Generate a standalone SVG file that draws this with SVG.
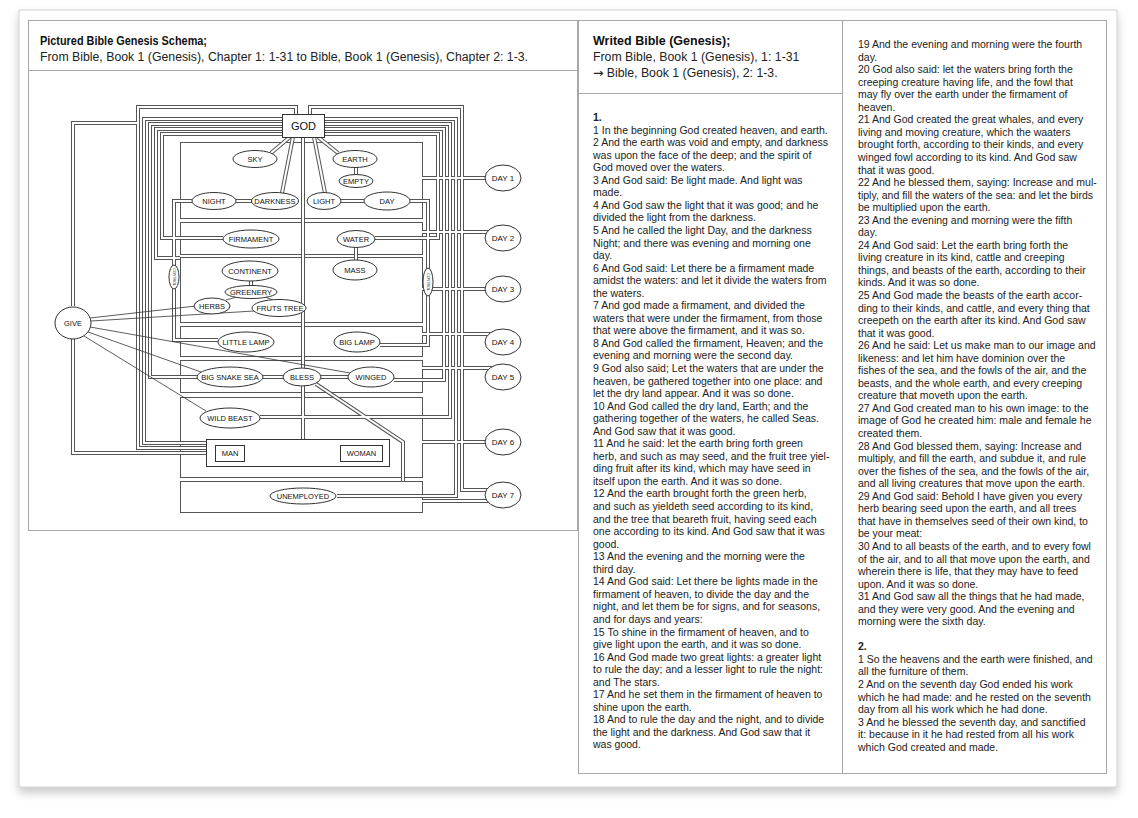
<svg xmlns="http://www.w3.org/2000/svg" width="1138" height="818" viewBox="0 0 1138 818">
<style>
.panel{fill:#fff;stroke:#a8a8a8;stroke-width:1}
.sep{stroke:#a8a8a8;stroke-width:1}
.box{fill:none;stroke:#555;stroke-width:1}
.o use{fill:none;stroke:#555;stroke-width:4;stroke-linejoin:miter}
.i use{fill:none;stroke:#fff;stroke-width:2;stroke-linejoin:miter}
.thin{fill:none;stroke:#333;stroke-width:0.8}
.node ellipse,.node rect{fill:#fff;stroke:#333;stroke-width:1}
.lbl{font-family:"Liberation Sans",Arial,sans-serif;font-size:7.5px;text-anchor:middle;fill:#111}
.tiny{font-family:"Liberation Sans",Arial,sans-serif;font-size:3.6px;text-anchor:middle;fill:#222}
.body{font-family:"Liberation Sans",Arial,sans-serif;font-size:10.5px;fill:#222}
.hd{font-family:"Liberation Sans",Arial,sans-serif;font-size:12.3px;fill:#222}
.hdb{font-family:"Liberation Sans",Arial,sans-serif;font-size:12.5px;font-weight:bold;fill:#111}
</style>
<defs>
<filter id="sh" x="-5%" y="-5%" width="110%" height="115%"><feDropShadow dx="0" dy="5" stdDeviation="5" flood-color="#000" flood-opacity="0.22"/></filter>
<path id="cA" d="M296,114 V107 H138 V448 H206"/>
<path id="cB" d="M282,119 H144 V443 H206"/>
<path id="cC" d="M282,124 H150 V377 H197"/>
<path id="cD" d="M282,129 H156 V258 H180"/>
<path id="cE" d="M282,134 H162 V238 H223"/>
<path id="cN" d="M192,201 H174 V340 H218"/>
<path id="cGu" d="M73,306 V123 H138"/>
<path id="cGd" d="M73,339 V453 H206"/>
<path id="cRt" d="M310,114 V107 H462 V490 H490"/>
<path id="cRu" d="M324,119 H456 V496 H337"/>
<path id="cRb" d="M324,124 H450 V417 H260"/>
<path id="cRg" d="M324,129 H444 V380 H394"/>
<path id="cRw" d="M324,134 H438 V238 H375"/>
<path id="cDy" d="M410,201 H428 V345 H380"/>
<path id="cSky" d="M290,137 L271,153"/>
<path id="cDk" d="M293,137 L282,193"/>
<path id="cLt" d="M314,137 L325,193"/>
<path id="cEa" d="M318,137 L338,153"/>
<path id="cEm" d="M356,167 V175"/>
<path id="cND" d="M236,201 H252"/>
<path id="cLD" d="M341,201 H364"/>
<path id="cWM" d="M356,247 V261"/>
<path id="cCG" d="M251,281 V286"/>
<path id="cV" d="M303,137 V439"/>
<path id="cBS" d="M263,377 H283"/>
<path id="cBW" d="M321,377 H348"/>
<path id="cBD" d="M316,384 L403,442 V481"/>
<path id="d1" d="M422,178 H495"/>
<path id="d2" d="M422,232 H495"/>
<path id="d3" d="M422,289 H495"/>
<path id="d4" d="M422,334 H495"/>
<path id="d5" d="M422,368 H495"/>
<path id="d6" d="M422,442 H495"/>
<path id="d7" d="M422,501 H495"/>
</defs>

<rect x="0" y="0" width="1138" height="818" fill="#fff"/>
<rect x="19" y="10" width="1098" height="777" fill="#fff" stroke="#d0d0d0" filter="url(#sh)"/>

<g id="panel-left">
<rect class="panel" x="28.5" y="20.5" width="549" height="510"/>
<line class="sep" x1="28.5" y1="70.5" x2="577.5" y2="70.5"/>
<text class="hdb" x="40" y="45" textLength="167" lengthAdjust="spacingAndGlyphs">Pictured Bible Genesis Schema;</text>
<text class="hd" x="40" y="61" textLength="488" lengthAdjust="spacingAndGlyphs">From Bible, Book 1 (Genesis), Chapter 1: 1-31 to Bible, Book 1 (Genesis), Chapter 2: 1-3.</text>
</g>

<g id="sections">
<rect class="box" x="180.5" y="142.5" width="242" height="76"/>
<rect class="box" x="180.5" y="222.5" width="242" height="32"/>
<rect class="box" x="180.5" y="257.5" width="242" height="65"/>
<rect class="box" x="180.5" y="326.5" width="242" height="30"/>
<rect class="box" x="180.5" y="360.5" width="242" height="32"/>
<rect class="box" x="180.5" y="397.5" width="242" height="80"/>
<rect class="box" x="180.5" y="481.5" width="242" height="31"/>
</g>

<g id="connectors">
<g class="o">
<use href="#cA"/><use href="#cB"/><use href="#cC"/><use href="#cD"/><use href="#cE"/><use href="#cN"/><use href="#cGu"/><use href="#cGd"/>
<use href="#cRt"/><use href="#cRu"/><use href="#cRb"/><use href="#cRg"/><use href="#cRw"/><use href="#cDy"/>
<use href="#cSky"/><use href="#cDk"/><use href="#cLt"/><use href="#cEa"/><use href="#cEm"/><use href="#cND"/><use href="#cLD"/><use href="#cWM"/><use href="#cCG"/>
<use href="#cV"/><use href="#cBS"/><use href="#cBW"/><use href="#cBD"/>
<use href="#d1"/><use href="#d2"/><use href="#d3"/><use href="#d4"/><use href="#d5"/><use href="#d6"/><use href="#d7"/>
</g>
<g class="i">
<use href="#cA"/><use href="#cB"/><use href="#cC"/><use href="#cD"/><use href="#cE"/><use href="#cN"/><use href="#cGu"/><use href="#cGd"/>
<use href="#cRt"/><use href="#cRu"/><use href="#cRb"/><use href="#cRg"/><use href="#cRw"/><use href="#cDy"/>
<use href="#cSky"/><use href="#cDk"/><use href="#cLt"/><use href="#cEa"/><use href="#cEm"/><use href="#cND"/><use href="#cLD"/><use href="#cWM"/><use href="#cCG"/>
<use href="#cV"/><use href="#cBS"/><use href="#cBW"/><use href="#cBD"/>
<use href="#d1"/><use href="#d2"/><use href="#d3"/><use href="#d4"/><use href="#d5"/><use href="#d6"/><use href="#d7"/>
</g>
<g class="thin">
<path d="M90,318 L196,306"/>
<path d="M91,321 L254,311"/>
<path d="M90,327 L350,373"/>
<path d="M88,332 L201,372"/>
<path d="M84,336 L206,411"/>
<path d="M237,297 L226,300"/>
<path d="M265,297 L273,300"/>
</g>
</g>

<g id="god" class="node"><rect x="282.5" y="114.5" width="42" height="23"/><text class="lbl" style="font-size:11px" x="303.5" y="130">GOD</text></g>
<g id="sky" class="node"><ellipse cx="255" cy="159" rx="22" ry="8.5"/><text class="lbl" x="255" y="161.7">SKY</text></g>
<g id="earth" class="node"><ellipse cx="355" cy="159" rx="22" ry="8.5"/><text class="lbl" x="355" y="161.7">EARTH</text></g>
<g id="empty" class="node"><ellipse cx="356" cy="181" rx="17" ry="6.5"/><text class="lbl" x="356" y="183.7">EMPTY</text></g>
<g id="night" class="node"><ellipse cx="214" cy="201" rx="22" ry="8.5"/><text class="lbl" x="214" y="203.7">NIGHT</text></g>
<g id="darkness" class="node"><ellipse cx="275" cy="201" rx="23.5" ry="8.5"/><text class="lbl" x="275" y="203.7">DARKNESS</text></g>
<g id="light" class="node"><ellipse cx="324" cy="201" rx="17" ry="8.5"/><text class="lbl" x="324" y="203.7">LIGHT</text></g>
<g id="day" class="node"><ellipse cx="387" cy="201" rx="23" ry="9"/><text class="lbl" x="387" y="203.7">DAY</text></g>
<g id="firmament" class="node"><ellipse cx="251" cy="239" rx="28" ry="9"/><text class="lbl" x="251" y="241.7">FIRMAMENT</text></g>
<g id="water" class="node"><ellipse cx="356" cy="239" rx="19" ry="8.5"/><text class="lbl" x="356" y="241.7">WATER</text></g>
<g id="mass" class="node"><ellipse cx="355" cy="270" rx="22" ry="10"/><text class="lbl" x="355" y="272.7">MASS</text></g>
<g id="continent" class="node"><ellipse cx="250" cy="271" rx="28" ry="10"/><text class="lbl" x="250" y="273.7">CONTINENT</text></g>
<g id="greenery" class="node"><ellipse cx="251" cy="292" rx="26" ry="6.5"/><text class="lbl" x="251" y="294.7">GREENERY</text></g>
<g id="herbs" class="node"><ellipse cx="212" cy="306" rx="18" ry="8"/><text class="lbl" x="212" y="308.7">HERBS</text></g>
<g id="fruts-tree" class="node"><ellipse cx="279" cy="308" rx="27" ry="8.5"/><text class="lbl" x="280" y="310.7">FRUTS TREE</text></g>
<g id="control-left" class="node"><ellipse cx="174" cy="277" rx="5" ry="12"/><text class="tiny" transform="translate(172.8,277) rotate(90)">CONTROL</text></g>
<g id="control-right" class="node"><ellipse cx="428" cy="282" rx="5" ry="14"/><text class="tiny" transform="translate(426.8,282) rotate(90)">CONTROL</text></g>
<g id="little-lamp" class="node"><ellipse cx="246" cy="342" rx="28" ry="10"/><text class="lbl" x="246" y="344.7">LITTLE LAMP</text></g>
<g id="big-lamp" class="node"><ellipse cx="357" cy="342" rx="23" ry="10"/><text class="lbl" x="357" y="344.7">BIG LAMP</text></g>
<g id="big-snake-sea" class="node"><ellipse cx="230" cy="377" rx="33" ry="10"/><text class="lbl" x="230" y="379.7">BIG SNAKE SEA</text></g>
<g id="bless" class="node"><ellipse cx="302" cy="377" rx="19" ry="9"/><text class="lbl" x="302" y="379.7">BLESS</text></g>
<g id="winged" class="node"><ellipse cx="371" cy="377" rx="23" ry="10"/><text class="lbl" x="371" y="379.7">WINGED</text></g>
<g id="wild-beast" class="node"><ellipse cx="230" cy="418" rx="30" ry="10"/><text class="lbl" x="230" y="420.7">WILD BEAST</text></g>
<g id="man-woman" class="node"><rect x="206.5" y="439.5" width="183" height="27"/></g>
<g id="man" class="node"><rect x="215.5" y="445.5" width="29" height="16"/><text class="lbl" x="230" y="456">MAN</text></g>
<g id="woman" class="node"><rect x="340.5" y="445.5" width="42" height="16"/><text class="lbl" x="361.5" y="456">WOMAN</text></g>
<g id="unemployed" class="node"><ellipse cx="303" cy="496" rx="33" ry="8"/><text class="lbl" x="303" y="498.7">UNEMPLOYED</text></g>
<g id="give" class="node"><ellipse cx="73" cy="323" rx="18" ry="16"/><text class="lbl" x="73" y="325.7">GIVE</text></g>
<g id="day1" class="node"><ellipse cx="503" cy="178" rx="18" ry="13"/><text class="lbl" style="font-size:8px" x="503" y="181">DAY 1</text></g>
<g id="day2" class="node"><ellipse cx="503" cy="238" rx="18" ry="13"/><text class="lbl" style="font-size:8px" x="503" y="241">DAY  2</text></g>
<g id="day3" class="node"><ellipse cx="503" cy="289" rx="18" ry="13"/><text class="lbl" style="font-size:8px" x="503" y="292">DAY 3</text></g>
<g id="day4" class="node"><ellipse cx="503" cy="342" rx="18" ry="13"/><text class="lbl" style="font-size:8px" x="503" y="345">DAY 4</text></g>
<g id="day5" class="node"><ellipse cx="503" cy="377" rx="18" ry="13"/><text class="lbl" style="font-size:8px" x="503" y="380">DAY 5</text></g>
<g id="day6" class="node"><ellipse cx="503" cy="442" rx="18" ry="13"/><text class="lbl" style="font-size:8px" x="503" y="445">DAY 6</text></g>
<g id="day7" class="node"><ellipse cx="503" cy="495" rx="18" ry="13"/><text class="lbl" style="font-size:8px" x="503" y="498">DAY 7</text></g>

<g id="column-middle">
<rect class="panel" x="578.5" y="20.5" width="264" height="753"/>
<line class="sep" x1="578.5" y1="93.5" x2="842.5" y2="93.5"/>
<text class="hdb" x="593" y="45">Writed Bible (Genesis);</text>
<text class="hd" x="593" y="61">From Bible, Book 1 (Genesis), 1: 1-31</text>
<text class="hd" x="593" y="77"><tspan style="font-family:'DejaVu Sans',sans-serif">→</tspan> Bible, Book 1 (Genesis), 2: 1-3.</text>
<text class="body" x="593" y="121"><tspan font-weight="bold">1.</tspan>
<tspan x="593" dy="12.55">1 In the beginning God created heaven, and earth.</tspan>
<tspan x="593" dy="12.55">2 And the earth was void and empty, and darkness</tspan>
<tspan x="593" dy="12.55">was upon the face of the deep; and the spirit of</tspan>
<tspan x="593" dy="12.55">God moved over the waters.</tspan>
<tspan x="593" dy="12.55">3 And God said: Be light made. And light was</tspan>
<tspan x="593" dy="12.55">made.</tspan>
<tspan x="593" dy="12.55">4 And God saw the light that it was good; and he</tspan>
<tspan x="593" dy="12.55">divided the light from the darkness.</tspan>
<tspan x="593" dy="12.55">5 And he called the light Day, and the darkness</tspan>
<tspan x="593" dy="12.55">Night; and there was evening and morning one</tspan>
<tspan x="593" dy="12.55">day.</tspan>
<tspan x="593" dy="12.55">6 And God said: Let there be a firmament made</tspan>
<tspan x="593" dy="12.55">amidst the waters: and let it divide the waters from</tspan>
<tspan x="593" dy="12.55">the waters.</tspan>
<tspan x="593" dy="12.55">7 And god made a firmament, and divided the</tspan>
<tspan x="593" dy="12.55">waters that were under the firmament, from those</tspan>
<tspan x="593" dy="12.55">that were above the firmament, and it was so.</tspan>
<tspan x="593" dy="12.55">8 And God called the firmament, Heaven; and the</tspan>
<tspan x="593" dy="12.55">evening and morning were the second day.</tspan>
<tspan x="593" dy="12.55">9 God also said; Let the waters that are under the</tspan>
<tspan x="593" dy="12.55">heaven, be gathered together into one place: and</tspan>
<tspan x="593" dy="12.55">let the dry land appear. And it was so done.</tspan>
<tspan x="593" dy="12.55">10 And God called the dry land, Earth; and the</tspan>
<tspan x="593" dy="12.55">gathering together of the waters, he called Seas.</tspan>
<tspan x="593" dy="12.55">And God saw that it was good.</tspan>
<tspan x="593" dy="12.55">11 And he said: let the earth bring forth green</tspan>
<tspan x="593" dy="12.55">herb, and such as may seed, and the fruit tree yiel-</tspan>
<tspan x="593" dy="12.55">ding fruit after its kind, which may have seed in</tspan>
<tspan x="593" dy="12.55">itself upon the earth. And it was so done.</tspan>
<tspan x="593" dy="12.55">12 And the earth brought forth the green herb,</tspan>
<tspan x="593" dy="12.55">and such as yieldeth seed according to its kind,</tspan>
<tspan x="593" dy="12.55">and the tree that beareth fruit, having seed each</tspan>
<tspan x="593" dy="12.55">one according to its kind. And God saw that it was</tspan>
<tspan x="593" dy="12.55">good.</tspan>
<tspan x="593" dy="12.55">13 And the evening and the morning were the</tspan>
<tspan x="593" dy="12.55">third day.</tspan>
<tspan x="593" dy="12.55">14 And God said: Let there be lights made in the</tspan>
<tspan x="593" dy="12.55">firmament of heaven, to divide the day and the</tspan>
<tspan x="593" dy="12.55">night, and let them be for signs, and for seasons,</tspan>
<tspan x="593" dy="12.55">and for days and years:</tspan>
<tspan x="593" dy="12.55">15 To shine in the firmament of heaven, and to</tspan>
<tspan x="593" dy="12.55">give light upon the earth, and it was so done.</tspan>
<tspan x="593" dy="12.55">16 And God made two great lights: a greater light</tspan>
<tspan x="593" dy="12.55">to rule the day; and a lesser light to rule the night:</tspan>
<tspan x="593" dy="12.55">and The stars.</tspan>
<tspan x="593" dy="12.55">17 And he set them in the firmament of heaven to</tspan>
<tspan x="593" dy="12.55">shine upon the earth.</tspan>
<tspan x="593" dy="12.55">18 And to rule the day and the night, and to divide</tspan>
<tspan x="593" dy="12.55">the light and the darkness. And God saw that it</tspan>
<tspan x="593" dy="12.55">was good.</tspan></text>
</g>

<g id="column-right">
<rect class="panel" x="842.5" y="20.5" width="264" height="753"/>
<text class="body" x="858" y="48"><tspan>19 And the evening and morning were the fourth</tspan>
<tspan x="858" dy="12.55">day.</tspan>
<tspan x="858" dy="12.55">20 God also said: let the waters bring forth the</tspan>
<tspan x="858" dy="12.55">creeping creature having life, and the fowl that</tspan>
<tspan x="858" dy="12.55">may fly over the earth under the firmament of</tspan>
<tspan x="858" dy="12.55">heaven.</tspan>
<tspan x="858" dy="12.55">21 And God created the great whales, and every</tspan>
<tspan x="858" dy="12.55">living and moving creature, which the waaters</tspan>
<tspan x="858" dy="12.55">brought forth, according to their kinds, and every</tspan>
<tspan x="858" dy="12.55">winged fowl according to its kind. And God saw</tspan>
<tspan x="858" dy="12.55">that it was good.</tspan>
<tspan x="858" dy="12.55">22 And he blessed them, saying: Increase and mul-</tspan>
<tspan x="858" dy="12.55">tiply, and fill the waters of the sea: and let the birds</tspan>
<tspan x="858" dy="12.55">be multiplied upon the earth.</tspan>
<tspan x="858" dy="12.55">23 And the evening and morning were the fifth</tspan>
<tspan x="858" dy="12.55">day.</tspan>
<tspan x="858" dy="12.55">24 And God said: Let the earth bring forth the</tspan>
<tspan x="858" dy="12.55">living creature in its kind, cattle and creeping</tspan>
<tspan x="858" dy="12.55">things, and beasts of the earth, according to their</tspan>
<tspan x="858" dy="12.55">kinds. And it was so done.</tspan>
<tspan x="858" dy="12.55">25 And God made the beasts of the earth accor-</tspan>
<tspan x="858" dy="12.55">ding to their kinds, and cattle, and every thing that</tspan>
<tspan x="858" dy="12.55">creepeth on the earth after its kind. And God saw</tspan>
<tspan x="858" dy="12.55">that it was good.</tspan>
<tspan x="858" dy="12.55">26 And he said: Let us make man to our image and</tspan>
<tspan x="858" dy="12.55">likeness: and let him have dominion over the</tspan>
<tspan x="858" dy="12.55">fishes of the sea, and the fowls of the air, and the</tspan>
<tspan x="858" dy="12.55">beasts, and the whole earth, and every creeping</tspan>
<tspan x="858" dy="12.55">creature that moveth upon the earth.</tspan>
<tspan x="858" dy="12.55">27 And God created man to his own image: to the</tspan>
<tspan x="858" dy="12.55">image of God he created him: male and female he</tspan>
<tspan x="858" dy="12.55">created them.</tspan>
<tspan x="858" dy="12.55">28 And God blessed them, saying: Increase and</tspan>
<tspan x="858" dy="12.55">multiply, and fill the earth, and subdue it, and rule</tspan>
<tspan x="858" dy="12.55">over the fishes of the sea, and the fowls of the air,</tspan>
<tspan x="858" dy="12.55">and all living creatures that move upon the earth.</tspan>
<tspan x="858" dy="12.55">29 And God said: Behold I have given you every</tspan>
<tspan x="858" dy="12.55">herb bearing seed upon the earth, and all trees</tspan>
<tspan x="858" dy="12.55">that have in themselves seed of their own kind, to</tspan>
<tspan x="858" dy="12.55">be your meat:</tspan>
<tspan x="858" dy="12.55">30 And to all beasts of the earth, and to every fowl</tspan>
<tspan x="858" dy="12.55">of the air, and to all that move upon the earth, and</tspan>
<tspan x="858" dy="12.55">wherein there is life, that they may have to feed</tspan>
<tspan x="858" dy="12.55">upon. And it was so done.</tspan>
<tspan x="858" dy="12.55">31 And God saw all the things that he had made,</tspan>
<tspan x="858" dy="12.55">and they were very good. And the evening and</tspan>
<tspan x="858" dy="12.55">morning were the sixth day.</tspan>
<tspan x="858" dy="25.1" font-weight="bold">2.</tspan>
<tspan x="858" dy="12.55">1 So the heavens and the earth were finished, and</tspan>
<tspan x="858" dy="12.55">all the furniture of them.</tspan>
<tspan x="858" dy="12.55">2 And on the seventh day God ended his work</tspan>
<tspan x="858" dy="12.55">which he had made: and he rested on the seventh</tspan>
<tspan x="858" dy="12.55">day from all his work which he had done.</tspan>
<tspan x="858" dy="12.55">3 And he blessed the seventh day, and sanctified</tspan>
<tspan x="858" dy="12.55">it: because in it he had rested from all his work</tspan>
<tspan x="858" dy="12.55">which God created and made.</tspan></text>
</g>
</svg>
